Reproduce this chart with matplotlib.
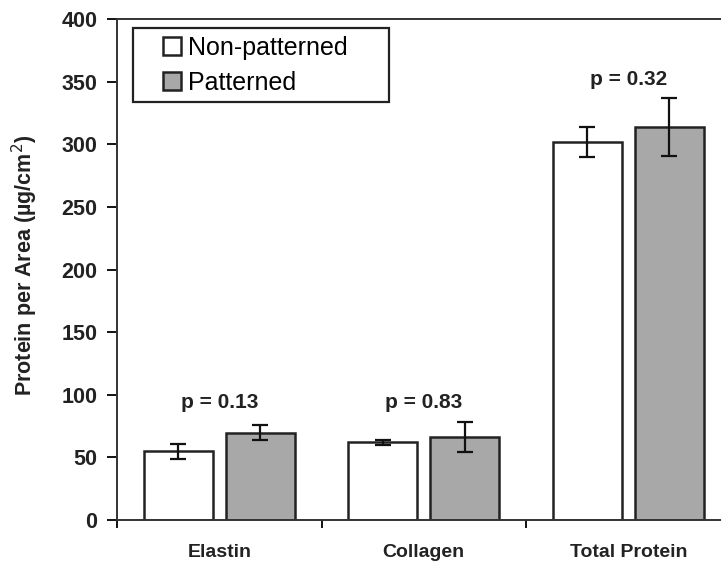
import matplotlib
matplotlib.use("Agg")
import matplotlib.pyplot as plt
from matplotlib.patches import Rectangle
import numpy as np

categories = ["Elastin", "Collagen", "Total Protein"]
non_patterned = [55, 62, 302]
non_patterned_err = [6, 2, 12]
patterned = [69.5, 66, 314]
patterned_err = [6, 12, 23]
p_labels = ["p = 0.13", "p = 0.83", "p = 0.32"]
p_heights = [94, 94, 352]
yticks = [0, 50, 100, 150, 200, 250, 300, 350, 400]

plt.rcParams['font.family'] = ['Liberation Sans', 'DejaVu Sans']

W, H = 721, 566
fig = plt.figure(figsize=(W/100, H/100), dpi=100)
ax = fig.add_axes([117/W, 1-520/H, (721-117)/W, (520-19)/H])

x = np.arange(len(categories))
bw = 0.337
off = 0.2
ekw = dict(elinewidth=1.6, capthick=1.6, ecolor='#111111')
ax.bar(x - off, non_patterned, bw, yerr=non_patterned_err, color='white',
       edgecolor='#222222', linewidth=1.8, capsize=6, error_kw=ekw,
       label='Non-patterned', zorder=2)
ax.bar(x + off, patterned, bw, yerr=patterned_err, color='#a8a8a8',
       edgecolor='#222222', linewidth=1.8, capsize=6, error_kw=ekw,
       label='Patterned', zorder=2)

for xi, lab, h in zip(x, p_labels, p_heights):
    ax.text(xi, h, lab, ha='center', va='center', fontsize=15,
            fontweight='bold', color='#222222')

ax.set_xlim(-0.5, -0.5 + (721-117)/204.5)
ax.set_ylim(0, 400)
ax.set_yticks(yticks)
ax.set_yticklabels([str(t) for t in yticks], fontsize=15.5, fontweight='bold',
                   color='#222222')
ax.tick_params(axis='y', direction='out', length=7, width=1.3, pad=7)

ax.set_xticks(x)
ax.set_xticklabels(categories, fontsize=14, fontweight='bold', color='#222222')
ax.tick_params(axis='x', which='major', length=0, pad=17)
ax.set_xticks(np.arange(len(categories)) - 0.5, minor=True)
ax.tick_params(axis='x', which='minor', direction='out', length=6, width=1.3)

fig.text(25/W, 1-265/H, 'Protein per Area (µg/cm$^2$)', rotation=90,
         ha='center', va='center', fontsize=15.5, fontweight='bold',
         color='#222222')

for s in ['left', 'bottom', 'top']:
    ax.spines[s].set_linewidth(1.4)
    ax.spines[s].set_color('#333333')
ax.spines['right'].set_visible(False)

# legend frame (pixel box 133..389 x 28..102)
def px2ax(px, py):
    return (px-117)/604, (520-py)/501

x0, y0 = px2ax(133, 102)
x1, y1 = px2ax(389, 28)
ax.add_patch(Rectangle((x0, y0), x1-x0, y1-y0, transform=ax.transAxes,
                       facecolor='white', edgecolor='#222222', linewidth=1.6,
                       zorder=5, clip_on=False))
lx, ly = px2ax(163, 36)
leg = ax.legend(loc='upper left', bbox_to_anchor=(lx, ly),
                fontsize=18, frameon=False,
                handlelength=0.72, handleheight=0.72, handletextpad=0.3,
                borderpad=0, labelspacing=0.42, borderaxespad=0)
leg.set_zorder(6)

fig.savefig('out.png', dpi=100)
